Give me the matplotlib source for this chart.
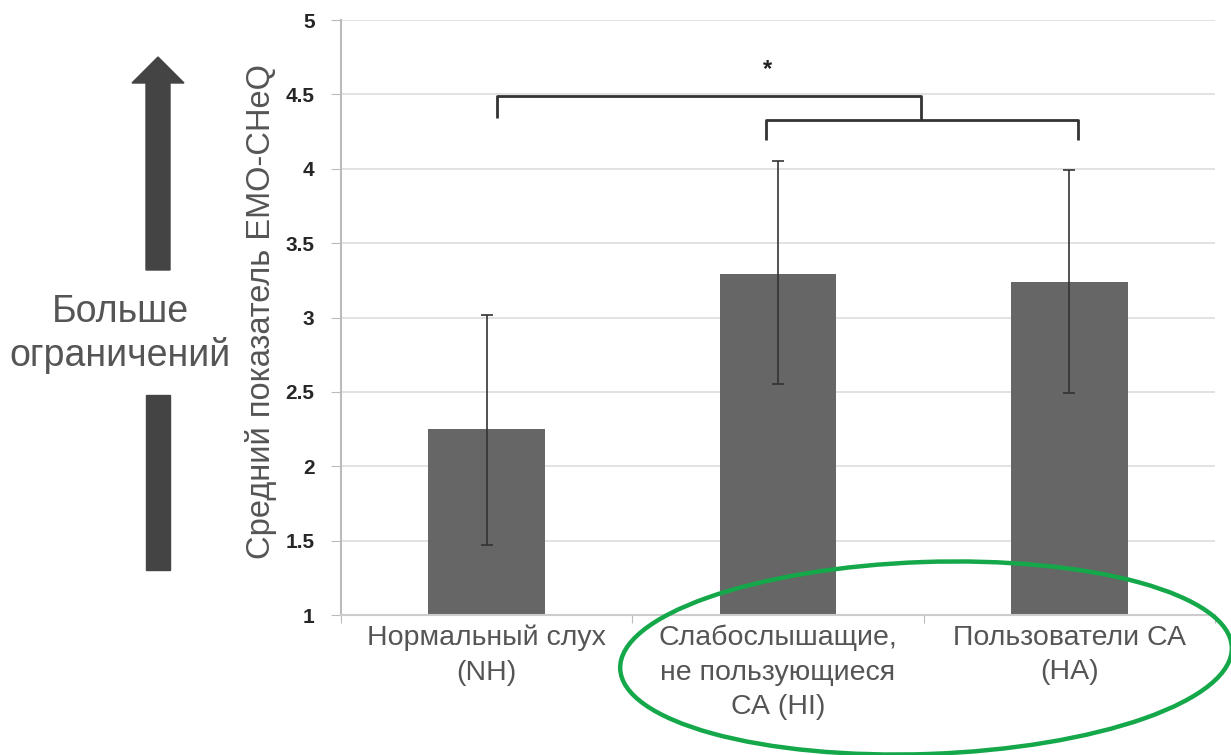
import numpy as np
import matplotlib
matplotlib.use("Agg")
import matplotlib.pyplot as plt
from matplotlib.patches import Ellipse, Polygon, Rectangle

plt.rcParams['font.family'] = ['Liberation Sans', 'DejaVu Sans']

# ----------------------------------------------------------------------
# Data
# ----------------------------------------------------------------------
groups = ["Нормальный слух\n(NH)",
          "Слабослышащие,\nне пользующиеся\nСА (HI)",
          "Пользователи СА\n(HA)"]
means = [2.25, 3.29, 3.24]
err_low = [1.47, 2.55, 2.49]
err_high = [3.02, 4.05, 3.99]

yticks = [1, 1.5, 2, 2.5, 3, 3.5, 4, 4.5, 5]
ytick_labels = ["1", "1.5", "2", "2.5", "3", "3.5", "4", "4.5", "5"]

# ----------------------------------------------------------------------
# Plot
# ----------------------------------------------------------------------
fig = plt.figure(figsize=(12.31, 7.55), dpi=100)
ax = fig.add_axes([0.277, 0.1854, 0.710, 0.7881])

x = np.arange(len(groups))
ax.bar(x, [m - 1 for m in means], bottom=1, width=0.4, color="#666666", zorder=2)
yerr = [np.array(means) - np.array(err_low), np.array(err_high) - np.array(means)]
ax.errorbar(x, means, yerr=yerr, fmt="none", ecolor="#333333", elinewidth=1.2,
            capsize=4.5, capthick=1.2, zorder=3)

ax.set_xlim(-0.5, 2.5)
ax.set_ylim(1, 5)
ax.set_yticks(yticks)
ax.set_yticklabels(ytick_labels, fontsize=15, color="#262626", fontweight="bold")
ax.set_xticks([-0.5, 0.5, 1.5, 2.5])
ax.set_xticklabels([])
ax.set_xticks(x, minor=True)
ax.set_xticklabels(groups, minor=True, fontsize=20.5, color="#555555", linespacing=1.42)
ax.tick_params(axis="x", which="minor", length=0, pad=7)
ax.tick_params(axis="x", which="major", length=6, color="#bbbbbb")
ax.tick_params(axis="y", length=7, color="#bbbbbb", pad=12)
ax.grid(axis="y", color="#dddddd", linewidth=1.2, zorder=0)
ax.set_axisbelow(True)
for s in ["top", "right"]:
    ax.spines[s].set_visible(False)
ax.spines["left"].set_color("#bbbbbb")
ax.spines["left"].set_linewidth(1.5)
ax.spines["bottom"].set_color("#cccccc")
ax.spines["bottom"].set_linewidth(1.5)

ax.set_ylabel("Средний показатель EMO-CHeQ", fontsize=23.5, color="#555555")
ax.yaxis.set_label_coords(-0.073, 0.51)

# significance brackets
bk = dict(color="#333333", linewidth=2.0, solid_capstyle="butt", clip_on=False)
ax.plot([0.96, 0.96, 2.03, 2.03], [4.19, 4.33, 4.33, 4.19], **bk)
ax.plot([0.036, 0.036, 1.49, 1.49], [4.34, 4.49, 4.49, 4.33], **bk)
ax.text(0.964, 4.67, "*", ha="center", va="center", fontsize=17, fontweight="bold", color="#222222")

# overlay in pixel coordinates for the side arrow and ellipse
ov = fig.add_axes([0, 0, 1, 1], zorder=5)
ov.set_xlim(0, 1231)
ov.set_ylim(755, 0)
ov.axis("off")
arrow_col = "#444444"
ov.add_patch(Polygon([[146, 270], [146, 83], [132, 83], [158, 57], [184, 83],
                      [170, 83], [170, 270]], closed=True, color=arrow_col))
ov.add_patch(Rectangle((146, 395), 24, 175, color=arrow_col))
ov.text(120, 312, "Больше", ha="center", va="center", fontsize=27, color="#555555")
ov.text(120, 355, "ограничений", ha="center", va="center", fontsize=27, color="#555555")
ov.add_patch(Ellipse((926, 658), 612, 192, angle=-2, fill=False,
                     edgecolor="#15a84a", linewidth=3.2))

fig.savefig("out.png", dpi=100)
